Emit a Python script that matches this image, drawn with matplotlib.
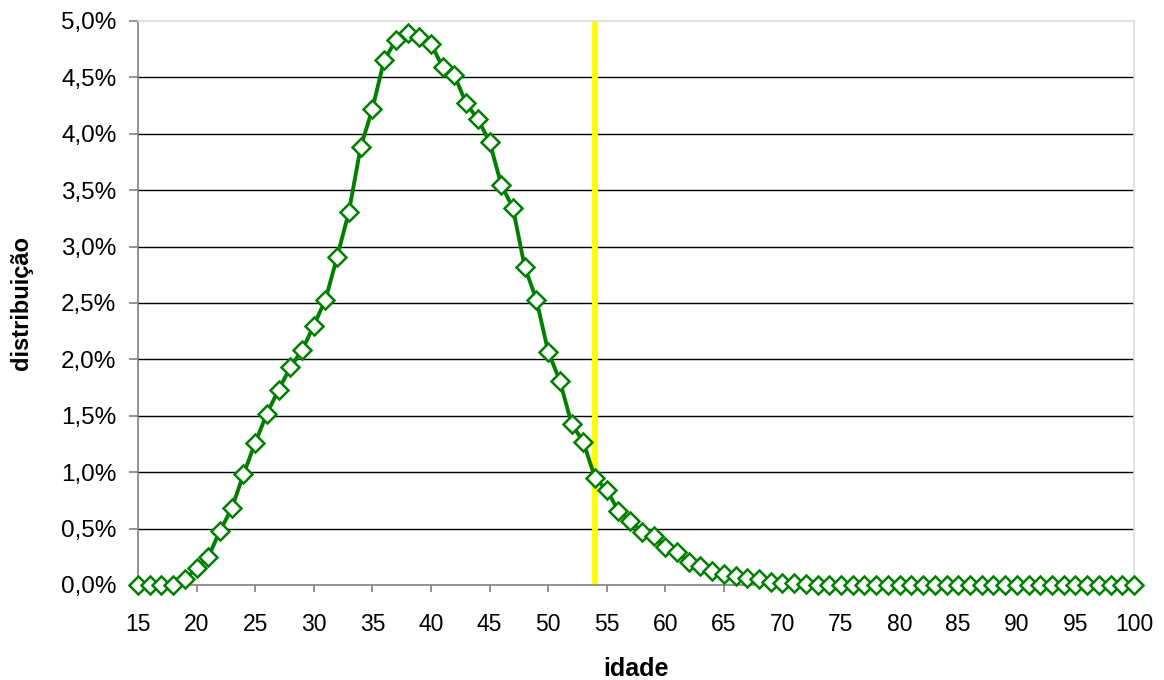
import matplotlib
matplotlib.use('Agg')
import matplotlib.pyplot as plt
from matplotlib.ticker import FuncFormatter, MultipleLocator

plt.rcParams['font.family'] = ['Liberation Sans', 'DejaVu Sans']

# distribution by age (fraction)
idade = list(range(15, 101))
distribuicao = [
    0.0000, 0.0000, 0.0000, 0.0000, 0.0005, 0.0015, 0.0025, 0.0048, 0.0068, 0.0098,  # 15-24
    0.0126, 0.0152, 0.0173, 0.0193, 0.0208, 0.0230, 0.0253, 0.0291, 0.0331, 0.0388,  # 25-34
    0.0422, 0.0465, 0.0483, 0.0489, 0.0486, 0.0480, 0.0459, 0.0452, 0.0427, 0.0413,  # 35-44
    0.0393, 0.0355, 0.0334, 0.0282, 0.0253, 0.0207, 0.0181, 0.0143, 0.0127, 0.0095,  # 45-54
    0.0084, 0.0066, 0.0057, 0.0047, 0.0043, 0.0034, 0.0029, 0.0020, 0.0017, 0.0012,  # 55-64
    0.0010, 0.0008, 0.0006, 0.0005, 0.0003, 0.0002, 0.00015, 0.0001, 0.0000, 0.0000,  # 65-74
] + [0.0] * 26  # 75-100
idade_corte = 54

fig = plt.figure(figsize=(11.64, 6.8), dpi=100)
ax = fig.add_axes([138 / 1164, 1 - 585 / 680, (1134 - 138) / 1164, (585 - 21) / 680])

# horizontal grid
for v in [0.005 * i for i in range(1, 10)]:
    ax.axhline(v, color='black', lw=1, zorder=1)

ax.plot([idade_corte, idade_corte], [0, 0.05], color='#ffff00', lw=4.2, zorder=2,
        solid_capstyle='butt')

ax.plot(idade, distribuicao, color='#008000', lw=2.8, marker='D', markersize=9,
        markerfacecolor='white', markeredgecolor='#008000', markeredgewidth=1.8,
        zorder=3, clip_on=False)

ax.set_xlim(15, 100)
ax.set_ylim(0, 0.05)
ax.xaxis.set_major_locator(MultipleLocator(5))
ax.yaxis.set_major_locator(MultipleLocator(0.005))
ax.yaxis.set_major_formatter(FuncFormatter(lambda v, p: f'{v * 100:.1f}%'.replace('.', ',')))

for s in ['top', 'right']:
    ax.spines[s].set_color('#dcdcdc')
    ax.spines[s].set_linewidth(1.2)
for s in ['left', 'bottom']:
    ax.spines[s].set_color('#808080')
    ax.spines[s].set_linewidth(1.2)

ax.tick_params(axis='both', colors='black', width=1.2, color='#808080')
ax.tick_params(axis='y', labelsize=17.5, length=6.5, pad=9)
ax.tick_params(axis='x', labelsize=16.5, length=5, pad=15)

ax.set_xlabel('idade', fontsize=18, fontweight='bold', va='center')
ax.set_ylabel('distribuição', fontsize=17, fontweight='bold', va='center')
ax.xaxis.set_label_coords(0.5, (585 - 669) / 564)
ax.yaxis.set_label_coords((21 - 138) / 996, 0.5)

fig.savefig('out.png', dpi=100)
